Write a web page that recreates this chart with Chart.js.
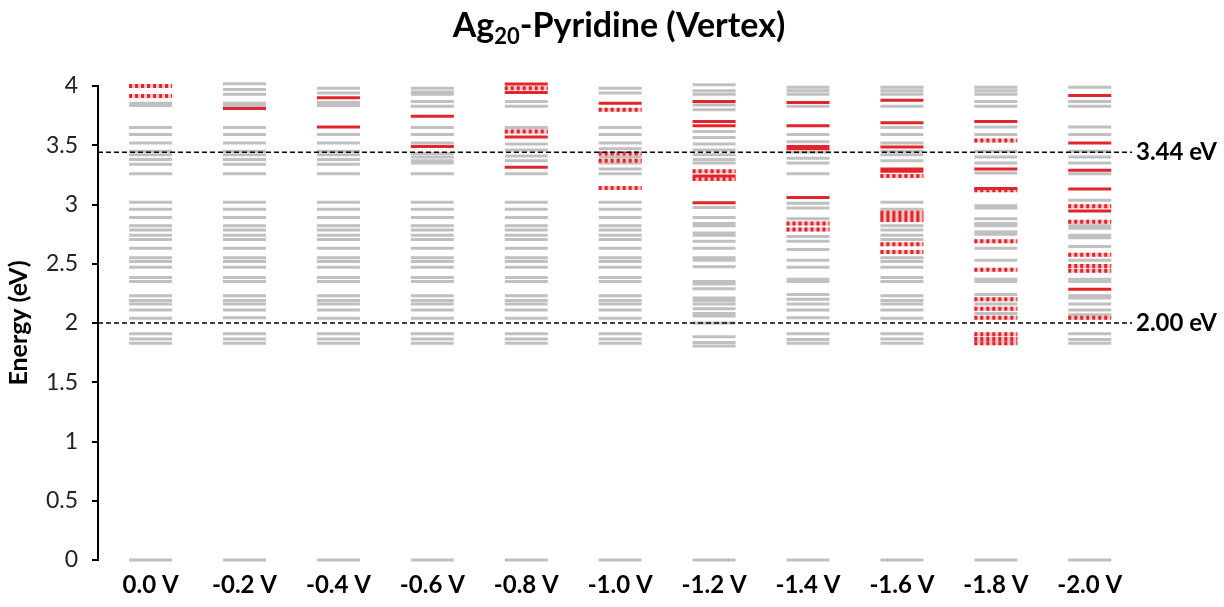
<!DOCTYPE html>
<html>
<head>
<meta charset="utf-8">
<script src="https://cdn.jsdelivr.net/npm/chart.js@4.4.1/dist/chart.umd.min.js"></script>
<style>
  html, body { margin: 0; padding: 0; background: #fff; }
  #wrap { width: 1224px; height: 607px; }
</style>
</head>
<body>
<div id="wrap"><canvas id="chart" width="1224" height="607"></canvas></div>
<script>
// bias voltages (columns)
var categories = ['0.0 V', '-0.2 V', '-0.4 V', '-0.6 V', '-0.8 V', '-1.0 V', '-1.2 V', '-1.4 V', '-1.6 V', '-1.8 V', '-2.0 V'];

// energy levels (eV), one list per column
var greyLevels = [
    [0, 1.83, 1.865, 1.91, 2.04, 2.11, 2.16, 2.19, 2.23, 2.35, 2.385, 2.47, 2.52, 2.55, 2.63, 2.705, 2.74, 2.785, 2.82, 2.89, 2.96, 3.02, 3.26, 3.34, 3.38, 3.42, 3.45, 3.52, 3.59, 3.65, 3.835, 3.855],
    [0, 1.83, 1.865, 1.91, 2.045, 2.11, 2.16, 2.19, 2.23, 2.35, 2.385, 2.47, 2.52, 2.55, 2.63, 2.705, 2.74, 2.785, 2.82, 2.89, 2.96, 3.02, 3.26, 3.34, 3.38, 3.42, 3.45, 3.52, 3.59, 3.65, 3.835, 3.855, 3.93, 3.97, 4.02],
    [0, 1.83, 1.865, 1.91, 2.04, 2.11, 2.16, 2.19, 2.23, 2.35, 2.385, 2.47, 2.52, 2.55, 2.63, 2.705, 2.74, 2.785, 2.82, 2.89, 2.96, 3.02, 3.26, 3.34, 3.38, 3.42, 3.45, 3.52, 3.59, 3.835, 3.86, 3.94, 3.98],
    [0, 1.83, 1.865, 1.91, 2.04, 2.11, 2.16, 2.19, 2.23, 2.35, 2.385, 2.47, 2.52, 2.55, 2.63, 2.705, 2.74, 2.785, 2.82, 2.89, 2.96, 3.02, 3.26, 3.35, 3.37, 3.40, 3.43, 3.52, 3.59, 3.65, 3.83, 3.87, 3.93, 3.95, 3.98],
    [0, 1.83, 1.865, 1.91, 2.04, 2.11, 2.16, 2.19, 2.23, 2.35, 2.385, 2.47, 2.52, 2.55, 2.63, 2.705, 2.74, 2.785, 2.82, 2.89, 2.96, 3.02, 3.26, 3.37, 3.41, 3.46, 3.51, 3.65, 3.83, 3.87],
    [0, 1.83, 1.865, 1.91, 2.04, 2.11, 2.16, 2.19, 2.23, 2.35, 2.385, 2.47, 2.52, 2.55, 2.63, 2.705, 2.74, 2.785, 2.82, 2.89, 2.96, 3.02, 3.26, 3.30, 3.35, 3.40, 3.47, 3.52, 3.59, 3.65, 3.94, 3.98],
    [0, 1.805, 1.835, 1.885, 2.00, 2.06, 2.08, 2.12, 2.16, 2.19, 2.21, 2.29, 2.33, 2.35, 2.475, 2.53, 2.55, 2.63, 2.69, 2.74, 2.76, 2.82, 2.84, 2.89, 2.975, 3.35, 3.38, 3.42, 3.46, 3.51, 3.565, 3.615, 3.80, 3.84, 3.93, 3.96, 4.01],
    [0, 1.83, 1.86, 1.91, 2.045, 2.11, 2.16, 2.20, 2.24, 2.35, 2.37, 2.47, 2.53, 2.62, 2.69, 2.73, 2.88, 2.97, 3.01, 3.26, 3.35, 3.39, 3.44, 3.53, 3.59, 3.83, 3.93, 3.96, 3.99],
    [0, 1.83, 1.865, 1.91, 2.04, 2.11, 2.16, 2.19, 2.23, 2.35, 2.385, 2.47, 2.52, 2.55, 2.705, 2.74, 2.785, 2.82, 2.96, 3.02, 3.37, 3.42, 3.45, 3.52, 3.59, 3.65, 3.83, 3.93, 3.96, 3.99],
    [0, 1.83, 1.865, 1.905, 2.08, 2.16, 2.24, 2.35, 2.37, 2.53, 2.63, 2.75, 2.77, 2.82, 2.84, 2.88, 2.97, 2.99, 3.265, 3.35, 3.40, 3.45, 3.59, 3.655, 3.83, 3.87, 3.93, 3.96, 3.99],
    [0, 1.83, 1.86, 1.91, 2.07, 2.11, 2.16, 2.21, 2.23, 2.35, 2.37, 2.53, 2.645, 2.72, 2.74, 2.80, 2.82, 3.035, 3.26, 3.35, 3.40, 3.45, 3.59, 3.655, 3.83, 3.87, 3.99]
];

var redSolid = [
    [],
    [3.81],
    [3.90, 3.655],
    [3.745, 3.49],
    [4.017, 3.945, 3.57, 3.315],
    [3.855],
    [3.87, 3.70, 3.665, 3.24, 3.015],
    [3.86, 3.665, 3.49, 3.47, 3.06],
    [3.88, 3.69, 3.485, 3.30, 3.28],
    [3.70, 3.30, 3.135],
    [3.92, 3.52, 3.29, 3.13, 2.945, 2.285]
];

var redDotted = [
    [4.00, 3.915],
    [],
    [],
    [],
    [3.98, 3.615],
    [3.80, 3.43, 3.37, 3.14],
    [3.28, 3.215],
    [2.84, 2.79],
    [3.24, 2.93, 2.90, 2.87, 2.665, 2.60],
    [3.54, 3.12, 2.69, 2.45, 2.20, 2.12, 2.045, 1.905, 1.865, 1.83],
    [2.985, 2.855, 2.575, 2.48, 2.44, 2.045]
];

var refLines = [3.44, 2.00];
var refLabels = ['3.44 eV', '2.00 eV'];

var xMin = -0.56, xMax = 10.45, halfWidth = 0.229;
var fontName = 'Lato, "Open Sans", sans-serif';

// one line with gaps per column, each level is a short horizontal segment
function segments(levels, col) {
    var pts = [];
    levels.forEach(function(y) {
        pts.push({ x: col - halfWidth, y: y });
        pts.push({ x: col + halfWidth, y: y });
        pts.push({ x: col, y: null });
    });
    return pts;
}

function levelSet(data, color, width, dash) {
    return {
        type: 'line', data: data, borderColor: color, borderWidth: width, borderDash: dash || [],
        borderCapStyle: 'butt', pointRadius: 0, spanGaps: false, fill: false, clip: false, yAxisID: 'y'
    };
}

// chart.js paints the first dataset last, so top layers go first
var datasets = [];
refLines.forEach(function(v) {
    datasets.push(levelSet([{ x: xMin, y: v }, { x: xMax, y: v }], '#000', 1.5, [5, 3]));
});
categories.forEach(function(c, i) { datasets.push(levelSet(segments(redSolid[i], i), '#e3242b', 3)); });
categories.forEach(function(c, i) { datasets.push(levelSet(segments(redDotted[i], i), '#e3242b', 4, [3, 3])); });
categories.forEach(function(c, i) { datasets.push(levelSet(segments(redDotted[i], i), '#f2c6c6', 4)); });
categories.forEach(function(c, i) { datasets.push(levelSet(segments(greyLevels[i], i), '#c0c0c0', 3)); });

// title with a real subscript
var titlePlugin = {
    id: 'subTitle',
    afterDraw: function(chart) {
        var ctx = chart.ctx, a = chart.chartArea;
        var big = 'bold 34px ' + fontName, small = 'bold 22px ' + fontName;
        ctx.save();
        ctx.fillStyle = '#000';
        ctx.textBaseline = 'alphabetic';
        ctx.font = big;
        var w1 = ctx.measureText('Ag').width, w3 = ctx.measureText('-Pyridine (Vertex)').width;
        ctx.font = small;
        var w2 = ctx.measureText('20').width;
        var x = (a.left + a.right) / 2 + 4 - (w1 + w2 + w3) / 2, y = 37;
        ctx.font = big; ctx.fillText('Ag', x, y);
        ctx.font = small; ctx.fillText('20', x + w1, y + 7);
        ctx.font = big; ctx.fillText('-Pyridine (Vertex)', x + w1 + w2, y);
        ctx.restore();
    }
};

new Chart(document.getElementById('chart'), {
    type: 'line',
    data: { datasets: datasets },
    plugins: [titlePlugin],
    options: {
        responsive: false,
        animation: false,
        layout: { padding: { top: 86, left: 4, right: 0, bottom: 0 } },
        plugins: { legend: { display: false }, tooltip: { enabled: false }, title: { display: false } },
        scales: {
            x: {
                type: 'linear', min: xMin, max: xMax,
                afterBuildTicks: function(scale) { scale.ticks = categories.map(function(c, i) { return { value: i }; }); },
                afterFit: function(scale) { scale.height = 47; },
                ticks: {
                    autoSkip: false, maxRotation: 0, padding: 11, color: '#000',
                    font: { family: fontName, size: 24, weight: 'bold' },
                    callback: function(v) { return categories[v]; }
                },
                grid: { display: false, drawTicks: false },
                border: { display: false }
            },
            y: {
                position: 'left', min: 0, max: 4,
                afterFit: function(scale) { scale.width = 94; },
                ticks: {
                    stepSize: 0.5, padding: 14, color: '#222', font: { family: fontName, size: 23 },
                    callback: function(v) { return String(v); }
                },
                grid: { drawOnChartArea: false, drawTicks: true, tickLength: 6, color: '#000', lineWidth: 2 },
                border: { display: true, color: '#000', width: 2 },
                title: { display: true, text: 'Energy (eV)', color: '#000', padding: { top: 0, bottom: 4 }, font: { family: fontName, size: 25, weight: 'bold' } }
            },
            y2: {
                position: 'right', min: 0, max: 4,
                afterBuildTicks: function(scale) { scale.ticks = refLines.map(function(v) { return { value: v }; }); },
                afterFit: function(scale) { scale.width = 92; },
                ticks: {
                    padding: 4, color: '#000', font: { family: fontName, size: 24, weight: 'bold' },
                    callback: function(v) { return refLabels[refLines.indexOf(v)]; }
                },
                grid: { display: false, drawTicks: false },
                border: { display: false }
            }
        }
    }
});
</script>
</body>
</html>
